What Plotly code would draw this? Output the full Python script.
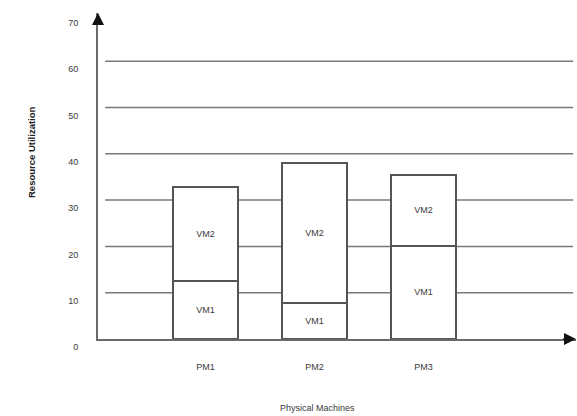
import plotly.graph_objects as go

machines = ["PM1", "PM2", "PM3"]
vm1 = [12.5, 7.8, 20.1]
vm2 = [20.3, 30.2, 15.3]
y_ticks = [0, 10, 20, 30, 40, 50, 60, 70]
grid_values = [10, 20, 30, 40, 50, 60]

FONT = "Liberation Sans, Arial, sans-serif"
TXT = "#3a3a3a"
LINE = "#6a6a6a"

fig = go.Figure()
for name, vals in (("VM1", vm1), ("VM2", vm2)):
    fig.add_trace(go.Bar(
        x=machines, y=vals, name=name, width=0.6,
        marker=dict(color="white", line=dict(color="#555555", width=1.5)),
        text=[name] * len(vals), textposition="inside",
        insidetextanchor="middle", constraintext="none",
        textfont=dict(family=FONT, size=9, color=TXT),
        hoverinfo="skip", showlegend=False,
    ))

fig.update_layout(
    width=577, height=416,
    margin=dict(l=98, r=1, t=13, b=77),
    barmode="stack",
    plot_bgcolor="white", paper_bgcolor="white",
    font=dict(family=FONT, size=9, color=TXT),
    uniformtext=dict(minsize=9, mode="show"),
)
fig.update_xaxes(
    range=[-0.986, 3.399], showgrid=False, zeroline=False, automargin=False,
    showline=True, linecolor=LINE, linewidth=2,
    ticks="", ticklabelstandoff=18,
    tickfont=dict(family=FONT, size=9, color=TXT),
)
fig.update_yaxes(
    range=[0, 70.4], tickvals=y_ticks, ticktext=[str(v) for v in y_ticks],
    showgrid=False, zeroline=False, automargin=False,
    showline=True, linecolor=LINE, linewidth=2,
    ticks="", ticklabelstandoff=16, ticklabelshift=8,
    tickfont=dict(family=FONT, size=9, color=TXT),
)

for g in grid_values:
    fig.add_shape(type="line", xref="x domain", yref="y",
                  x0=0.015, x1=0.994, y0=g, y1=g, layer="below",
                  line=dict(color="#7a7a7a", width=1.5))

# arrow heads on the axes
fig.add_annotation(xref="x domain", yref="y domain", axref="x domain", ayref="y domain",
                   x=0, y=1.0, ax=0, ay=0.96, text="", showarrow=True,
                   arrowhead=2, arrowsize=1.6, arrowwidth=1.5, arrowcolor="#111111")
fig.add_annotation(xref="x domain", yref="y domain", axref="x domain", ayref="y domain",
                   x=1.0, y=0, ax=0.97, ay=0, text="", showarrow=True,
                   arrowhead=2, arrowsize=1.6, arrowwidth=1.5, arrowcolor="#111111")

# axis titles
fig.add_annotation(xref="paper", yref="paper", x=(317 - 98) / 478, y=-(408 - 339) / 326,
                   xanchor="center", yanchor="middle",
                   text="Physical Machines", showarrow=False,
                   font=dict(family=FONT, size=9, color=TXT))
fig.add_annotation(xref="paper", yref="paper", x=-(98 - 31) / 478, y=(339 - 152) / 326,
                   xanchor="center", yanchor="middle",
                   text="<b>Resource Utilization</b>", showarrow=False, textangle=-90,
                   font=dict(family=FONT, size=9.5, color="#222222"))

fig.write_html("out.html", config={"displayModeBar": False},
               post_script="document.body.style.margin='0';document.body.style.overflow='hidden';")
